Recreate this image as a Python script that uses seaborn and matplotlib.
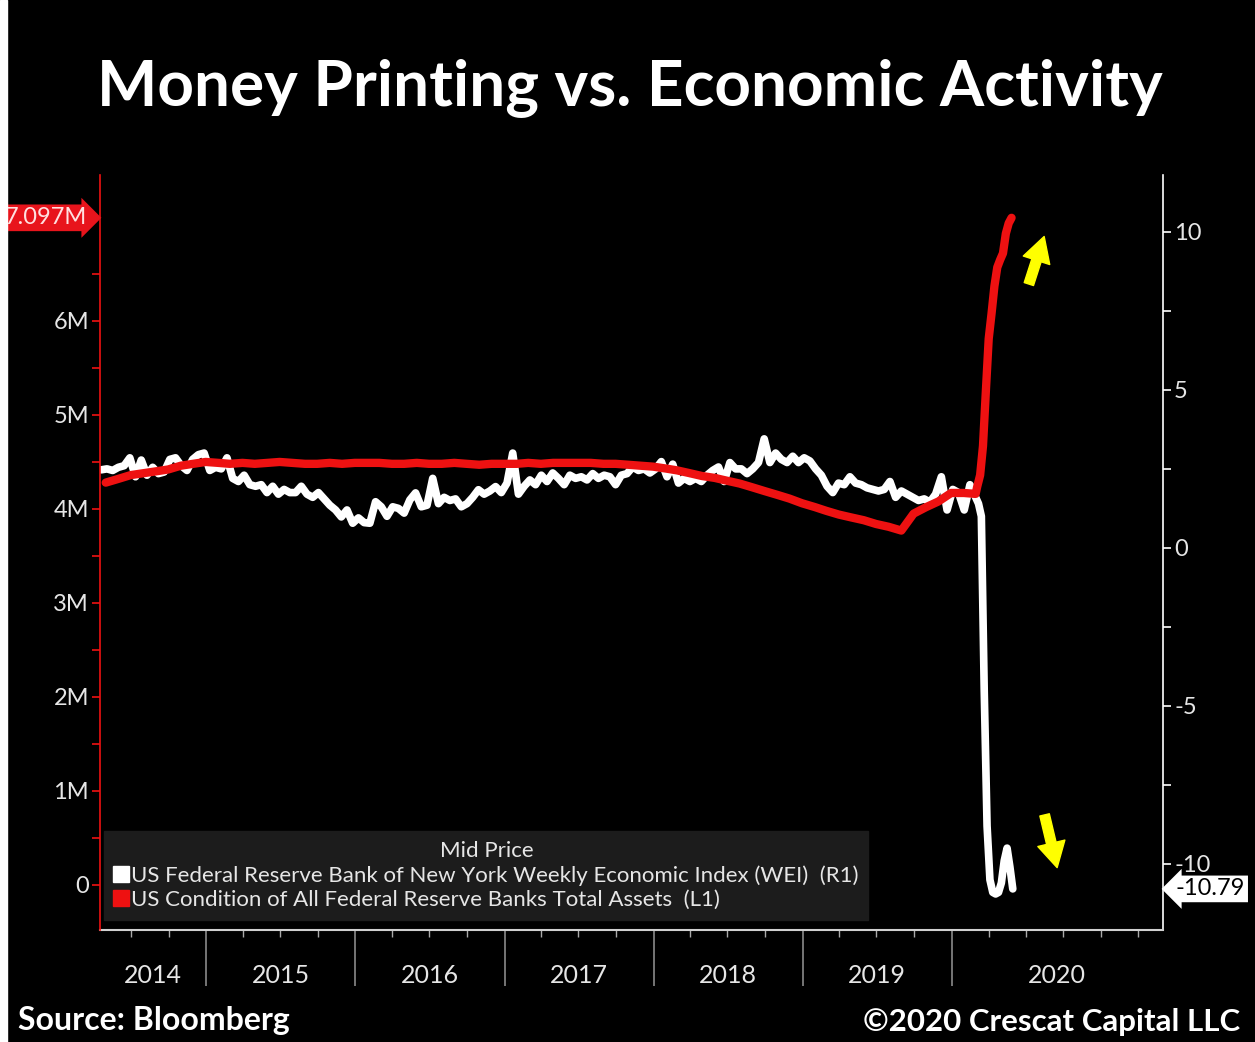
import pandas as pd
import matplotlib.pyplot as plt
import matplotlib.dates as mdates
import matplotlib.transforms as mtransforms
from matplotlib.lines import Line2D
from matplotlib.patches import Rectangle
import seaborn as sns

# NY Fed Weekly Economic Index (R1) - biweekly readings from 2014-04-19
wei_2014_2016 = [2.47, 2.5, 2.45, 2.55, 2.6, 2.85, 2.25, 2.78, 2.3, 2.55,
                 2.35, 2.4, 2.8, 2.85, 2.6, 2.45, 2.8, 2.95, 3.0, 2.45,
                 2.55, 2.5, 2.85, 2.2, 2.1, 2.3, 2.0, 1.95, 2.0, 1.75,
                 1.95, 1.7, 1.85, 1.75, 1.75, 1.95, 1.7, 1.6, 1.75, 1.55,
                 1.35, 1.2, 0.98, 1.2, 0.78, 0.95, 0.8, 0.78]
wei_2016_2017 = [1.46, 1.3, 1.0, 1.3, 1.25, 1.1, 1.52, 1.74, 1.3, 1.35,
                 2.2, 1.4, 1.6, 1.5, 1.55, 1.3, 1.4, 1.6, 1.84, 1.7,
                 1.8, 1.94, 1.75, 2.05, 3.0, 1.7, 1.95, 2.15, 2.0, 2.3,
                 2.1, 2.37, 2.2, 2.0, 2.3, 2.2, 2.25, 2.15, 2.35, 2.2,
                 2.3, 2.25, 2.0, 2.3, 2.35, 2.56, 2.45, 2.5]
wei_2017_2019 = [2.37, 2.5, 2.73, 2.25, 2.65, 2.05, 2.2, 2.1, 2.2, 2.1,
                 2.3, 2.45, 2.56, 2.1, 2.7, 2.5, 2.5, 2.35, 2.5, 2.7,
                 3.45, 2.7, 3.0, 2.8, 2.7, 2.9, 2.7, 2.85, 2.75, 2.5,
                 2.3, 1.95, 1.75, 2.05, 2.0, 2.25, 2.05, 2.0, 1.9, 1.85,
                 1.8, 1.85, 2.1, 1.6, 1.8, 1.7, 1.6, 1.5]
wei_2019_2020 = [1.55, 1.45, 1.7, 2.25, 1.2, 1.85, 1.75, 1.2, 2.0, 1.6]
# weekly from 2020-03-07
wei_covid = [1.4, 1.0, -4.5, -8.8, -10.5, -10.9, -10.95, -10.9, -10.6, -9.9,
             -9.5, -10.1, -10.79]

# Fed total assets (L1), millions of millions - month ends from 2014-04
fed_2014 = [4.28, 4.32, 4.36, 4.38, 4.40, 4.42, 4.46, 4.48, 4.50]
fed_2015 = [4.49, 4.48, 4.49, 4.48, 4.49, 4.50, 4.49, 4.48, 4.48, 4.49, 4.48, 4.49]
fed_2016 = [4.49, 4.49, 4.48, 4.48, 4.49, 4.48, 4.48, 4.49, 4.48, 4.47, 4.48, 4.48]
fed_2017 = [4.48, 4.49, 4.48, 4.49, 4.49, 4.49, 4.49, 4.48, 4.48, 4.47, 4.46, 4.45]
fed_2018 = [4.43, 4.41, 4.38, 4.35, 4.33, 4.30, 4.27, 4.23, 4.19, 4.15, 4.11, 4.06]
fed_2019 = [4.02, 3.98, 3.94, 3.91, 3.88, 3.84, 3.81, 3.77, 3.95, 4.02, 4.08, 4.17]
fed_2020 = [4.17, 4.16]
# weekly from 2020-03-04
fed_covid = [4.24, 4.36, 4.67, 5.25, 5.81, 6.08, 6.37, 6.57, 6.65, 6.72, 6.93, 7.04, 7.097]

years = [2014, 2015, 2016, 2017, 2018, 2019, 2020]
left_ticks = [0, 1, 2, 3, 4, 5, 6]
left_labels = ['0', '1M', '2M', '3M', '4M', '5M', '6M']
right_ticks = [-10, -5, 0, 5, 10]

wei_bi = wei_2014_2016 + wei_2016_2017 + wei_2017_2019 + wei_2019_2020
wei = pd.DataFrame({
    'date': list(pd.date_range('2014-04-19', periods=len(wei_bi), freq='14D'))
            + list(pd.date_range('2020-03-07', periods=len(wei_covid), freq='7D')),
    'value': wei_bi + wei_covid,
})
fed_m = fed_2014 + fed_2015 + fed_2016 + fed_2017 + fed_2018 + fed_2019 + fed_2020
fed = pd.DataFrame({
    'date': list(pd.date_range('2014-04-30', periods=len(fed_m), freq='ME'))
            + list(pd.date_range('2020-03-04', periods=len(fed_covid), freq='7D')),
    'value': fed_m + fed_covid,
})

sns.set_theme(style='dark', rc={'axes.facecolor': 'black', 'figure.facecolor': 'black'})
plt.rcParams['font.family'] = ['Lato', 'DejaVu Sans']
plt.rcParams['axes.unicode_minus'] = False

fig = plt.figure(figsize=(12.55, 10.42), dpi=100)
ax = fig.add_axes([0.0797, 0.1075, 0.8470, 0.7246])
ax2 = ax.twinx()

# white on the primary axes (right scale), red on the twin so it sits on top
sns.lineplot(data=wei, x='date', y='value', ax=ax, color='white', linewidth=5.5,
             solid_capstyle='round', solid_joinstyle='round')
sns.lineplot(data=fed, x='date', y='value', ax=ax2, color='#ee1111', linewidth=6,
             solid_capstyle='round', solid_joinstyle='round')

x_min, x_max = pd.Timestamp('2014-04-16'), pd.Timestamp('2021-06-02')
ax.set_xlim(x_min, x_max)
ax.set_ylim(-12.09, 11.80)
ax2.set_ylim(-0.479, 7.553)
ax.set_xlabel('')
ax.set_ylabel('')
ax2.set_ylabel('')

# right axis (WEI)
ax.yaxis.tick_right()
ax.set_yticks(right_ticks)
ax.set_yticks([-7.5, -2.5, 2.5, 7.5], minor=True)
ax.tick_params(axis='y', which='both', direction='out', color='white', labelcolor='#e6e6e6',
               length=6, width=1.2, labelsize=17, pad=2, left=False, right=True)

# left axis (Fed assets)
ax2.yaxis.tick_left()
ax2.set_yticks(left_ticks)
ax2.set_yticklabels(left_labels)
ax2.set_yticks([t + 0.5 for t in left_ticks], minor=True)
ax2.tick_params(axis='y', which='both', direction='out', color='#ee1111', labelcolor='#e6e6e6',
                length=6, width=1.2, labelsize=17, pad=2, left=True, right=False)

for s in ['top', 'left']:
    ax.spines[s].set_visible(False)
ax.spines['right'].set_color('white')
ax.spines['right'].set_linewidth(1.2)
ax.spines['bottom'].set_color('#d0d0d0')
ax.spines['bottom'].set_linewidth(1.5)
for s in ['top', 'right', 'bottom']:
    ax2.spines[s].set_visible(False)
ax2.spines['left'].set_color('#ee1111')
ax2.spines['left'].set_linewidth(1.2)

# x axis: year separators + quarter ticks, labels centred in each year
year_starts = [pd.Timestamp(f'{yr}-01-01') for yr in years[1:]]
ax.set_xticks(year_starts)
ax.xaxis.set_minor_locator(mdates.MonthLocator(bymonth=[1, 4, 7, 10]))
ax.xaxis.set_major_formatter(plt.NullFormatter())
ax.tick_params(axis='x', which='major', direction='out', color='#8a8a8a', length=40, width=1.2, bottom=True)
ax.tick_params(axis='x', which='minor', direction='out', color='#aaaaaa', length=5, width=1, bottom=True)
xt = mtransforms.blended_transform_factory(ax.transData, ax.transAxes)
bounds = [x_min] + year_starts + [x_max]
for i, yr in enumerate(years):
    start, end = bounds[i], bounds[i + 1]
    ax.text(start + (end - start) / 2, -0.06, str(yr), transform=xt, ha='center', va='center',
            color='#e6e6e6', fontsize=18)

# last-value tags
lt = mtransforms.blended_transform_factory(ax2.transAxes, ax2.transData)
ax2.text(-0.012, fed['value'].iloc[-1], f"{fed['value'].iloc[-1]:.3f}M", transform=lt,
         ha='right', va='center', color='#ffe0e0', fontsize=17,
         bbox=dict(boxstyle='rarrow,pad=0.12', fc='#e8141c', ec='none'))
rt = mtransforms.blended_transform_factory(ax.transAxes, ax.transData)
ax.text(1.012, wei['value'].iloc[-1], f"{wei['value'].iloc[-1]:.2f}", transform=rt,
        ha='left', va='center', color='black', fontsize=17,
        bbox=dict(boxstyle='larrow,pad=0.12', fc='white', ec='none'))

# yellow arrows
arrow = dict(arrowstyle='simple,head_width=1.0,head_length=0.9,tail_width=0.35',
             fc='#ffff00', ec='#ffff00', mutation_scale=20)
ax2.annotate('', xy=(0.889, 0.922), xytext=(0.873, 0.852), xycoords='axes fraction',
             textcoords='axes fraction', arrowprops=arrow)
ax2.annotate('', xy=(0.901, 0.079), xytext=(0.888, 0.156), xycoords='axes fraction',
             textcoords='axes fraction', arrowprops=arrow)

# legend
handles = [Line2D([], [], marker='s', color='white', linestyle='', markersize=12),
           Line2D([], [], marker='s', color='#ee1111', linestyle='', markersize=12)]
labels = ['US Federal Reserve Bank of New York Weekly Economic Index (WEI)  (R1)',
          'US Condition of All Federal Reserve Banks Total Assets  (L1)']
leg = ax2.legend(handles, labels, title='Mid Price', loc='lower left',
                 bbox_to_anchor=(0.004, 0.013), borderaxespad=0, frameon=True,
                 fancybox=False, facecolor='#1c1c1c', edgecolor='#1c1c1c', framealpha=1,
                 fontsize=16, title_fontsize=16, handlelength=0.6, handletextpad=0.15,
                 labelspacing=0.2, borderpad=0.45, labelcolor='#e6e6e6', alignment='center')
leg.get_title().set_color('#e6e6e6')

# titles and credits
fig.text(0.502, 0.916, 'Money Printing vs. Economic Activity', ha='center', va='center',
         color='white', fontsize=46, fontweight='bold')
fig.text(0.014, 0.021, 'Source: Bloomberg', ha='left', va='center', color='white',
         fontsize=23, fontweight='bold')
fig.text(0.988, 0.019, '©2020 Crescat Capital LLC', ha='right', va='center', color='white',
         fontsize=22.5, fontweight='bold')

fig.patches.append(Rectangle((0, 0), 7 / 1255, 1, transform=fig.transFigure, color='white'))

fig.savefig('out.png', dpi=100, facecolor='black')
